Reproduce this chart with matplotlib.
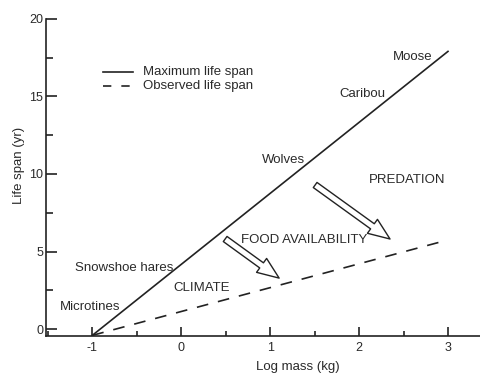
import matplotlib.pyplot as plt
from matplotlib.ticker import MultipleLocator

plt.rcParams['font.family'] = ['Liberation Sans', 'DejaVu Sans']
plt.rcParams['axes.unicode_minus'] = False

# line end points
log_mass = [-1, 3]
max_life = [-0.4, 17.9]
obs_life = [-0.4, 5.75]

species = ['Moose', 'Caribou', 'Wolves', 'Snowshoe hares', 'Microtines']
factors = ['PREDATION', 'FOOD AVAILABILITY', 'CLIMATE']

ink = '#222222'
txt = '#2a2a2a'

fig = plt.figure(figsize=(4.8, 3.76), dpi=100)
ax = fig.add_axes([0.096, 0.106, 0.904, 0.844])

ax.plot(log_mass, max_life, color=ink, lw=1.2)
ax.plot(log_mass, obs_life, color=ink, lw=1.2, linestyle=(0, (7, 6)))

ax.set_xlim(-1.52, 3.36)
ax.set_ylim(-0.45, 20)
ax.xaxis.set_major_locator(MultipleLocator(1))
ax.xaxis.set_minor_locator(MultipleLocator(0.5))
ax.yaxis.set_major_locator(MultipleLocator(5))
ax.yaxis.set_minor_locator(MultipleLocator(2.5))

for s in ['top', 'right']:
    ax.spines[s].set_visible(False)
for s in ['left', 'bottom']:
    ax.spines[s].set_linewidth(1.2)
    ax.spines[s].set_color(ink)

ax.tick_params(axis='y', which='major', direction='in', length=8, width=1.2,
               pad=2, labelsize=9, colors=ink, labelcolor=txt)
ax.tick_params(axis='y', which='minor', direction='in', length=5, width=1.2, colors=ink)
ax.tick_params(axis='x', which='major', direction='in', length=6.5, width=1.2,
               pad=4, labelsize=9, colors=ink, labelcolor=txt)
ax.tick_params(axis='x', which='minor', direction='in', length=3.5, width=1.2, colors=ink)

fig.text(298 / 480, 1 - 367 / 376, 'Log mass (kg)', ha='center', va='center',
         fontsize=9.5, color=txt)
fig.text(19 / 480, 1 - 165 / 376, 'Life span (yr)', ha='center', va='center',
         rotation=90, fontsize=9.5, color=txt)

# legend drawn by hand like the original
ax.plot([-0.876, -0.54], [16.58, 16.58], color=ink, lw=1.2)
ax.plot([-0.876, -0.54], [15.68, 15.68], color=ink, lw=1.2, linestyle=(0, (5, 6)))
ax.text(-0.43, 16.58, 'Maximum life span', va='center', fontsize=9.5, color=txt)
ax.text(-0.43, 15.68, 'Observed life span', va='center', fontsize=9.5, color=txt)

kw = dict(fontsize=9.5, color=txt, va='center')
ax.text(2.83, 17.55, species[0], ha='right', **kw)
ax.text(2.30, 15.16, species[1], ha='right', **kw)
ax.text(1.39, 10.9, species[2], ha='right', **kw)
ax.text(-1.19, 3.94, species[3], ha='left', **kw)
ax.text(-1.36, 1.42, species[4], ha='left', **kw)
ax.text(2.11, 9.6, factors[0], ha='left', **kw)
ax.text(0.674, 5.74, factors[1], ha='left', **kw)
ax.text(-0.09, 2.65, factors[2], ha='left', **kw)

arrow = dict(arrowstyle='simple,head_length=1.2,head_width=0.95,tail_width=0.35',
             fc='white', ec=ink, lw=1, mutation_scale=13, shrinkA=0, shrinkB=0)
ax.annotate('', xy=(2.348, 5.81), xytext=(1.506, 9.29), arrowprops=arrow)
ax.annotate('', xy=(1.101, 3.29), xytext=(0.494, 5.81), arrowprops=arrow)

fig.savefig('out.png', dpi=100)
